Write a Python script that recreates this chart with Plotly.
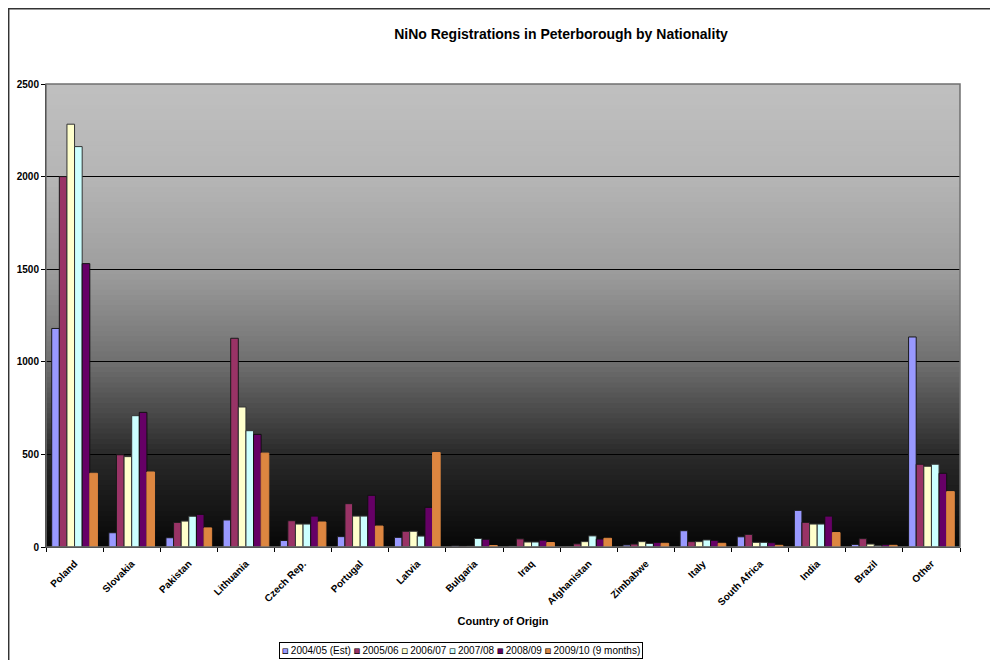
import numpy as np
import plotly.graph_objects as go

# ===========[ Data ]=========== #
countries = ["Poland", "Slovakia", "Pakistan", "Lithuania", "Czech Rep.", "Portugal", "Latvia",
             "Bulgaria", "Iraq", "Afghanistan", "Zimbabwe", "Italy", "South Africa", "India",
             "Brazil", "Other"]

series_names = ["2004/05 (Est)", "2005/06", "2006/07", "2007/08", "2008/09", "2009/10 (9 months)"]

y_0405 = [1180, 77, 50, 146, 35, 56, 52, 6, 5, 1, 11, 88, 55, 198, 14, 1134]
y_0506 = [2000, 498, 133, 1127, 142, 234, 85, 4, 44, 17, 16, 29, 68, 133, 45, 447]
y_0607 = [2283, 488, 140, 756, 124, 167, 85, 4, 27, 29, 29, 29, 25, 124, 16, 436]
y_0708 = [2162, 709, 166, 628, 124, 167, 59, 46, 27, 60, 19, 38, 25, 124, 8, 447]
y_0809 = [1530, 727, 176, 608, 167, 279, 214, 42, 37, 43, 25, 36, 23, 167, 13, 398]
y_0910 = [398, 405, 103, 507, 135, 113, 510, 8, 24, 47, 20, 20, 9, 78, 9, 299]

y_ticks = [0, 500, 1000, 1500, 2000, 2500]

# Colors (old Excel palette)
colors = ["#9999FF", "#993366", "#FFFFCC", "#CCFFFF", "#660066", "#DD8640"]
outline = ["#1a1a1a", "#1a1a1a", "#333333", "#333333", "#111111", "#DD8640"]

FONT = "Arial, Liberation Sans, sans-serif"

# page body has an 8px margin, so the figure is sized/placed to land on the reference pixels
W, H = 990, 652
PL, PR, PT, PB = 38, 952, 76, 539		# plot area in figure pixels
PW, PH = PR - PL, PB - PT

def px_x(p):
	return (p - PL) / PW

def px_y(p):
	return (PB - p) / PH

fig = go.Figure()

all_series = [y_0405, y_0506, y_0607, y_0708, y_0809, y_0910]
for name, vals, col, lc in zip(series_names, all_series, colors, outline):
	fig.add_trace(go.Bar(x=countries, y=vals, name=name, showlegend=False,
		marker={"color": col, "line": {"color": lc, "width": 1}}))

# ===========[ Plot background gradient (light gray -> black) ]=========== #
stops_f = [0.0, 0.2, 0.4, 0.6, 0.8, 1.0]
stops_g = [192, 182, 158, 112, 42, 8]
n_strips = 90
for i in range(n_strips):
	f = (i + 0.5) / n_strips
	g = int(np.interp(f, stops_f, stops_g))
	# each strip runs to the bottom so no seams show between strips
	fig.add_shape(type="rect", xref="paper", yref="paper", x0=0, x1=1,
		y0=0, y1=1 - i / n_strips,
		fillcolor=f"rgb({g},{g},{g})", line={"width": 0}, layer="below")

# Plot area frame (top/right gray)
fig.add_shape(type="rect", xref="paper", yref="paper", x0=0, x1=1, y0=0, y1=1,
	line={"color": "#707070", "width": 1.5}, layer="above")

# Outer chart border (right/bottom edges fall outside the picture)
fig.add_shape(type="rect", xref="paper", yref="paper", x0=px_x(0.7), x1=1.2, y0=px_y(0.7), y1=-0.4,
	line={"color": "#333333", "width": 1.5}, layer="above")

# ===========[ Legend built as a text box ]=========== #
legend_parts = []
for name, col in zip(series_names, colors):
	legend_parts.append(f"<span style='color:{col};stroke:#000000;stroke-width:0.6px'>■</span> {name}")
fig.add_annotation(text=" ".join(legend_parts), xref="paper", yref="paper",
	x=px_x(453), y=px_y(642), xanchor="center", yanchor="middle",
	showarrow=False, font={"family": FONT, "size": 10, "color": "#000000"},
	bgcolor="#FFFFFF", bordercolor="#000000", borderwidth=1, borderpad=2)

# ===========[ Layout ]=========== #
fig.update_layout(
	width=W, height=H,
	margin={"l": PL, "r": W - PR, "t": PT, "b": H - PB, "autoexpand": False},
	paper_bgcolor="#FFFFFF", plot_bgcolor="rgba(0,0,0,0)",
	barmode="group", bargap=0.2, bargroupgap=0,
	font={"family": FONT, "size": 10, "color": "#000000"},
	title={"text": "<b>NiNo Registrations in Peterborough by Nationality</b>",
		"x": 553 / W, "xanchor": "center", "y": 1 - 26 / H, "yanchor": "middle",
		"font": {"family": FONT, "size": 14, "color": "#000000"}},
)

fig.update_yaxes(range=[0, 2500], tickvals=y_ticks, ticktext=[f"<b>{v}</b>" for v in y_ticks],
	showgrid=True, gridcolor="#000000", gridwidth=1, zeroline=False,
	showline=True, linecolor="#000000", linewidth=1, ticks="outside", ticklen=4,
	tickcolor="#000000", tickfont={"family": FONT, "size": 10})

fig.update_xaxes(tickangle=-45, tickson="boundaries", ticks="outside", ticklen=4,
	tickcolor="#000000", showline=True, linecolor="#000000", linewidth=1,
	tickvals=countries, ticktext=[f"<b>{c}</b>" for c in countries],
	tickfont={"family": FONT, "size": 10}, ticklabelstandoff=6,
	title={"text": "<b>Country of Origin</b>", "font": {"family": FONT, "size": 11}, "standoff": 10})

fig.write_html("out.html")
